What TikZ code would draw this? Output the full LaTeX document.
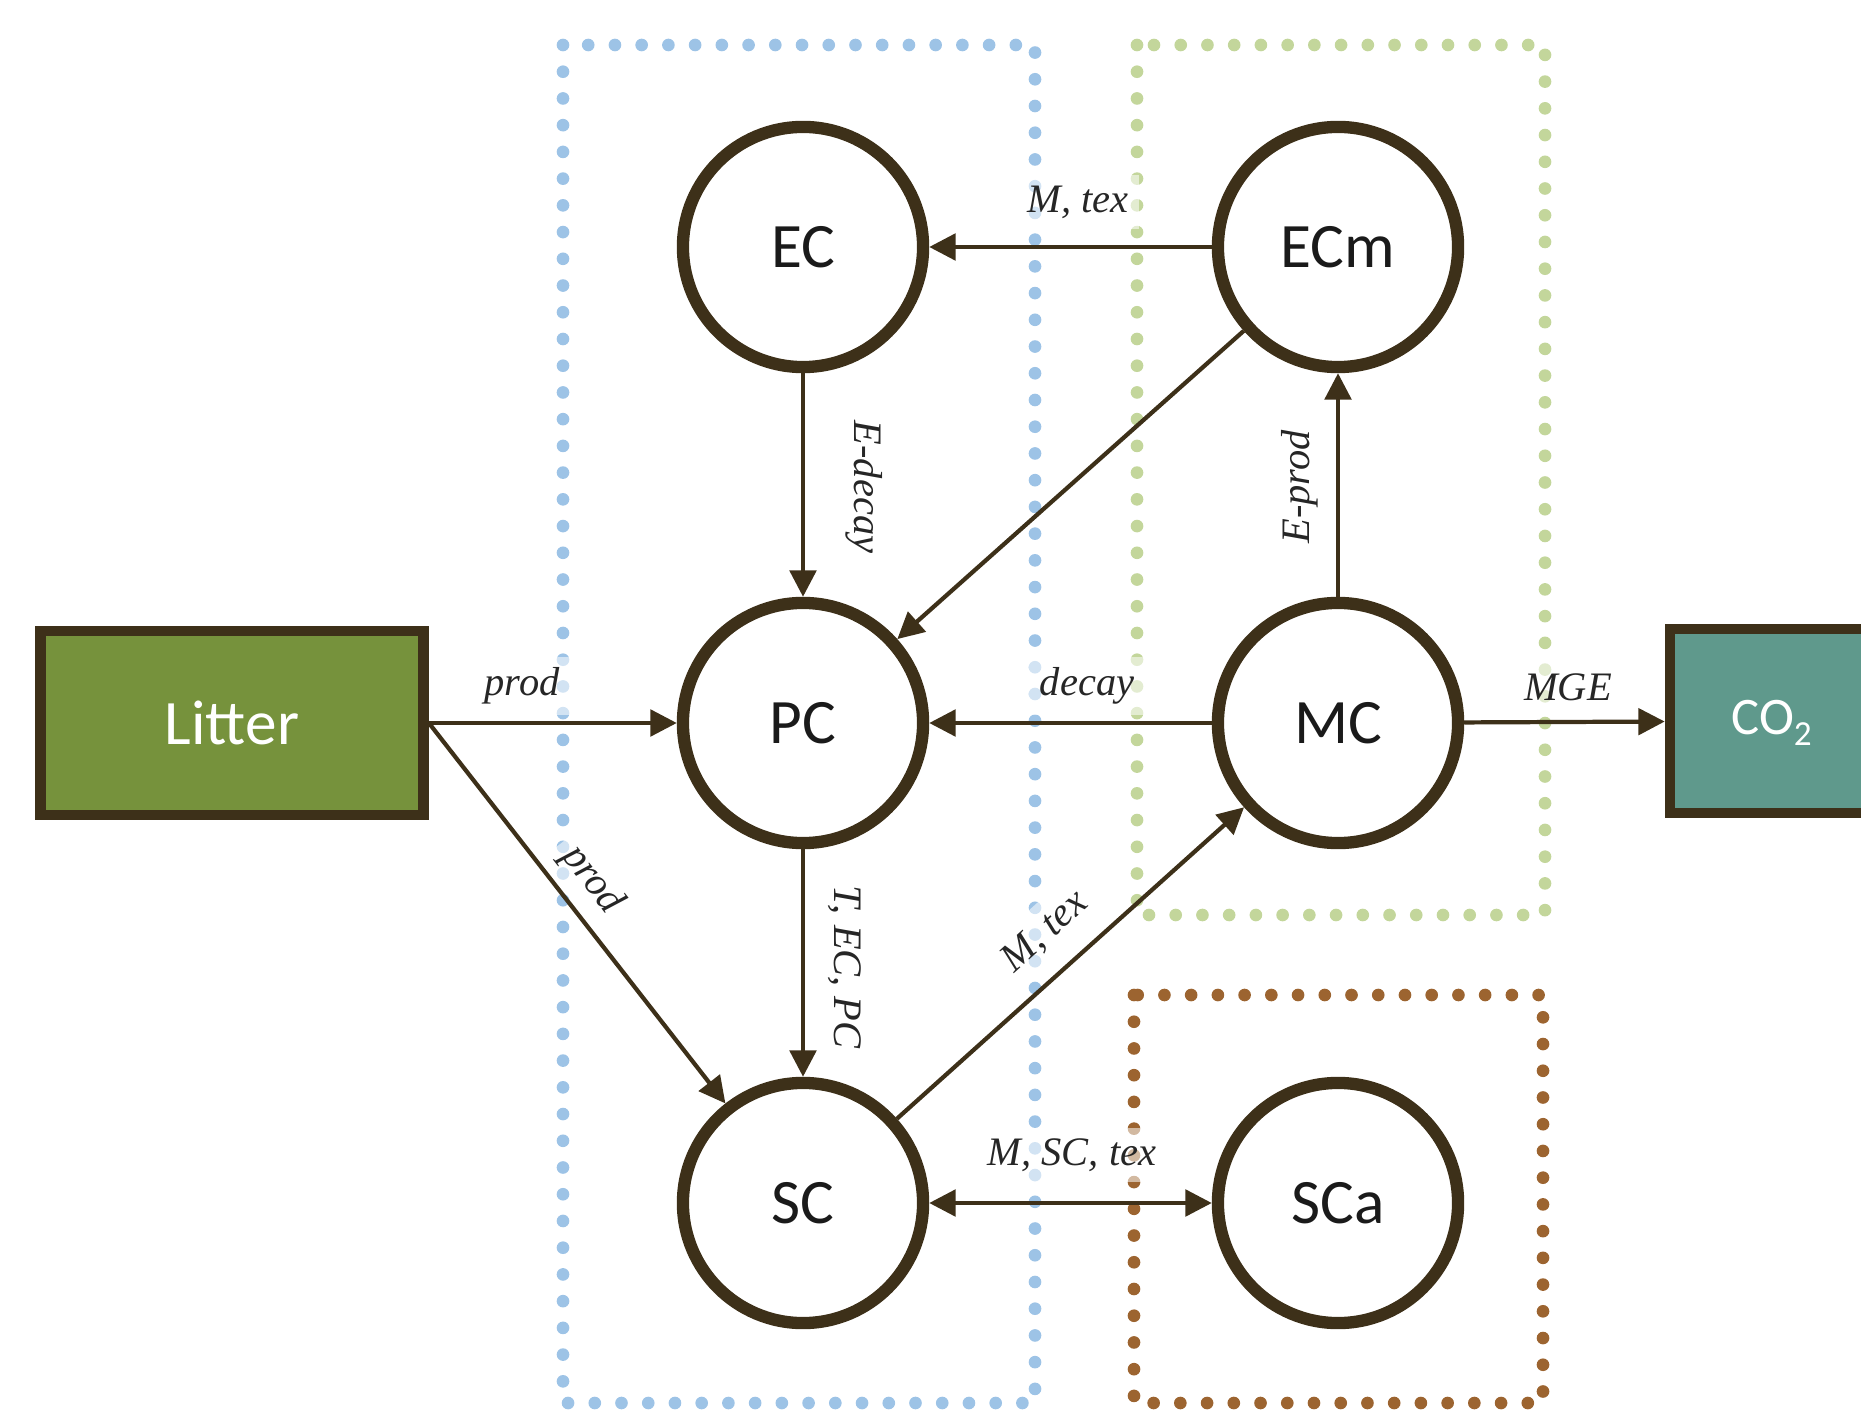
\documentclass[tikz,border=0pt]{standalone}
\usepackage{fontspec}
\setmainfont{Liberation Serif}
\newfontfamily\calib{Carlito}
\usetikzlibrary{arrows.meta}
\definecolor{dbrown}{HTML}{3D3019}
\definecolor{litgreen}{HTML}{76923C}
\definecolor{coteal}{HTML}{5F998C}
\definecolor{dotblue}{HTML}{9DC3E6}
\definecolor{dotgreen}{HTML}{C3D69B}
\definecolor{dotbrown}{HTML}{9C6430}
\definecolor{txt}{HTML}{1A1A1A}
\begin{document}
\begin{tikzpicture}[x=0.01cm,y=-0.01cm,
  >={Triangle[length=7.5pt,width=7.5pt]},
  pool/.style={circle, draw=dbrown, line width=3.5pt, minimum size=2.40cm, inner sep=0pt, font=\calib\fontsize{18}{21}\selectfont, text=txt},
  src/.style={rectangle, draw=dbrown, line width=3pt, minimum height=1.84cm, inner sep=0pt, font=\calib\fontsize{18}{21}\selectfont, text=white},
  flow/.style={draw=dbrown, line width=1.2pt, ->},
  lbl/.style={font=\itshape\fontsize{11.5}{13}\selectfont, text=black!85, fill=white, fill opacity=0.55, text opacity=1, inner sep=3pt},
  grp/.style={line width=3.6pt, line cap=round, dash pattern=on 0pt off 7.6pt}]
\useasboundingbox (0,0) rectangle (1861,1416);
\clip (0,0) rectangle (1861,1416);
% group boxes
\draw[grp, dotblue] (563,45) rectangle (1035,1403);
\draw[grp, dotgreen] (1137,45) rectangle (1545,915);
\draw[grp, dotbrown] (1134,995) rectangle (1543,1403);
% pools
\node[pool] (EC) at (803,247) {EC};
\node[pool] (ECm) at (1338,247) {ECm};
\node[pool] (PC) at (803,723) {PC};
\node[pool] (MC) at (1338,723) {MC};
\node[pool] (SC) at (803,1203) {SC};
\node[pool] (SCa) at (1338,1203) {SCa};
\node[src, fill=litgreen, minimum width=3.83cm] (Litter) at (232,723) {Litter};
\node[src, fill=coteal, minimum width=2.3cm,
  label={[inner sep=0pt, xshift=-0.135cm, yshift=-0.02cm, text=white, font=\calib\fontsize{15}{17}\selectfont]center:{CO\raisebox{-3.1pt}{\fontsize{10}{11}\selectfont 2}}}] (CO2) at (1785,721) {};
% flows
\draw[flow] (ECm) -- (EC);
\draw[flow] (EC) -- (PC);
\draw[flow] (ECm) -- (PC);
\draw[flow] (MC) -- (ECm);
\draw[flow] (Litter.east) -- (PC);
\draw[flow] (Litter.east) -- (SC);
\draw[flow] (MC) -- (PC);
\draw[flow] (PC) -- (SC);
\draw[flow] (SC) -- (MC);
\draw[flow, <->] (SC) -- (SCa);
\draw[flow] (MC) -- (CO2);
% labels
\node[lbl] (l1) at (1078,202) {M, tex};
\node[lbl, rotate=-90] (l2) at (864,487) {E-decay};
\node[lbl, rotate=90] (l3) at (1300,487) {E-prod};
\node[lbl] (l4) at (522,686) {prod};
\node[lbl, rotate=-52] (l5) at (592,880) {prod};
\node[lbl] (l6) at (1087,686) {decay};
\node[lbl, rotate=-90] (l7) at (845,967) {T, EC, PC};
\node[lbl, rotate=42] (l8) at (1045,932) {M, tex};
\node[lbl] (l9) at (1072,1155) {M, SC, tex};
\node[lbl] (l10) at (1568,687) {MGE};
\end{tikzpicture}
\end{document}
